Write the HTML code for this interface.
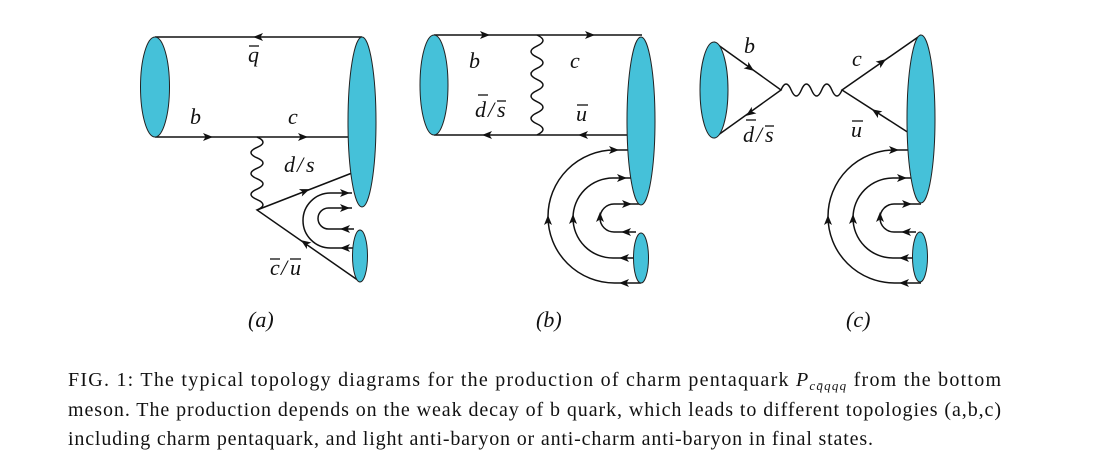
<!DOCTYPE html>
<html><head><meta charset="utf-8"><style>
html,body{margin:0;padding:0;background:#fff;}
svg{display:block;}
.l{fill:none;stroke:#111;stroke-width:1.5;}
.e{fill:#45C1D9;stroke:#222;stroke-width:1;}
.t{font-family:"Liberation Serif",serif;font-style:italic;font-size:22px;fill:#111;}
.p{font-family:"Liberation Serif",serif;font-style:italic;font-size:22px;fill:#111;}
.c{font-family:"Liberation Serif",serif;font-size:20px;fill:#111;}
.bar{stroke:#111;stroke-width:1.3;}
</style></head><body>
<svg width="1094" height="467" viewBox="0 0 1094 467" xmlns="http://www.w3.org/2000/svg">
<defs><path id="ar" d="M5,0 L-5,-4 L-2.5,0 L-5,4 Z" fill="#111"/></defs>

<!-- (a) -->
<path class="l" d="M155,37 H362 M155,137 H350"/>
<path class="l" d="M257,137 q12,5.2 0,10.43 t0,10.43 t0,10.43 t0,10.43 t0,10.43 t0,10.43 t0,10.43"/>
<path class="l" d="M352,173 L257,210 L359,281"/>
<path class="l" d="M352,193 H330.5 A27.5,27.5 0 0 0 330.5,248 H354"/>
<path class="l" d="M352,208 H328.5 A10.5,10.5 0 0 0 328.5,229 H354"/>
<use href="#ar" transform="translate(258,37) rotate(180)"/>
<use href="#ar" transform="translate(208,137)"/>
<use href="#ar" transform="translate(303,137)"/>
<use href="#ar" transform="translate(305,191) rotate(-21.3)"/>
<use href="#ar" transform="translate(305,243) rotate(-145.5)"/>
<use href="#ar" transform="translate(345,193)"/>
<use href="#ar" transform="translate(345,208)"/>
<use href="#ar" transform="translate(345,229) rotate(180)"/>
<use href="#ar" transform="translate(345,248) rotate(180)"/>
<ellipse class="e" cx="155" cy="87" rx="14.5" ry="50"/>
<ellipse class="e" cx="362" cy="122" rx="14" ry="85"/>
<ellipse class="e" cx="360" cy="256" rx="7.5" ry="26"/>
<text class="t" x="248" y="62">q</text><line class="bar" x1="249" y1="46" x2="259" y2="46"/>
<text class="t" x="190" y="124">b</text>
<text class="t" x="288" y="124">c</text>
<text class="t"><tspan x="284" y="172">d</tspan><tspan x="297" y="172">/</tspan><tspan x="306" y="172">s</tspan></text>
<text class="t"><tspan x="270" y="275">c</tspan><tspan x="281" y="275">/</tspan><tspan x="290" y="275">u</tspan></text>
<line class="bar" x1="270" y1="259" x2="280" y2="259"/><line class="bar" x1="290" y1="259" x2="301" y2="259"/>
<text class="p" x="248" y="327">(a)</text>

<!-- (b) -->
<path class="l" d="M434,35 H642 M434,135 H629"/>
<path class="l" d="M537,35 q12,5.55 0,11.11 t0,11.11 t0,11.11 t0,11.11 t0,11.11 t0,11.11 t0,11.11 t0,11.11 t0,11.11"/>
<path class="l" d="M633,150 H614.5 A66.5,66.5 0 0 0 614.5,283 H641"/>
<path class="l" d="M636,178 H613 A40,40 0 0 0 613,258 H636"/>
<path class="l" d="M641,204 H614 A14,14 0 0 0 614,232 H636"/>
<use href="#ar" transform="translate(485,35)"/>
<use href="#ar" transform="translate(590,35)"/>
<use href="#ar" transform="translate(487,135) rotate(180)"/>
<use href="#ar" transform="translate(583,135) rotate(180)"/>
<use href="#ar" transform="translate(614,150)"/>
<use href="#ar" transform="translate(622,178)"/>
<use href="#ar" transform="translate(627,204)"/>
<use href="#ar" transform="translate(626,232) rotate(180)"/>
<use href="#ar" transform="translate(624,258) rotate(180)"/>
<use href="#ar" transform="translate(624,283) rotate(180)"/>
<use href="#ar" transform="translate(548,220) rotate(-90)"/>
<use href="#ar" transform="translate(573,219) rotate(-90)"/>
<use href="#ar" transform="translate(600,217) rotate(-90)"/>
<ellipse class="e" cx="434" cy="85" rx="14" ry="50"/>
<ellipse class="e" cx="641" cy="121" rx="14" ry="84"/>
<ellipse class="e" cx="641" cy="258" rx="7.5" ry="25"/>
<text class="t" x="469" y="68">b</text>
<text class="t" x="570" y="68">c</text>
<text class="t"><tspan x="475" y="117">d</tspan><tspan x="488" y="117">/</tspan><tspan x="497" y="117">s</tspan></text>
<line class="bar" x1="478" y1="95" x2="488" y2="95"/><line class="bar" x1="497" y1="101" x2="506" y2="101"/>
<text class="t" x="576" y="121">u</text><line class="bar" x1="577" y1="105" x2="588" y2="105"/>
<text class="p" x="536" y="327">(b)</text>

<!-- (c) -->
<path class="l" d="M714,42 L781,90 L714,138"/>
<path class="l" d="M781,90 q5.08,-12 10.17,0 t10.17,0 t10.17,0 t10.17,0 t10.17,0 t10.17,0"/>
<path class="l" d="M921,35 L842,90 L909,133"/>
<path class="l" d="M913,150 H894.5 A66.5,66.5 0 0 0 894.5,283 H921"/>
<path class="l" d="M916,178 H893 A40,40 0 0 0 893,258 H916"/>
<path class="l" d="M921,204 H894 A14,14 0 0 0 894,232 H916"/>
<use href="#ar" transform="translate(750,68) rotate(35.6)"/>
<use href="#ar" transform="translate(750,113) rotate(144.4)"/>
<use href="#ar" transform="translate(882,62) rotate(-35.5)"/>
<use href="#ar" transform="translate(876,112) rotate(-146.5)"/>
<use href="#ar" transform="translate(894,150)"/>
<use href="#ar" transform="translate(902,178)"/>
<use href="#ar" transform="translate(907,204)"/>
<use href="#ar" transform="translate(906,232) rotate(180)"/>
<use href="#ar" transform="translate(904,258) rotate(180)"/>
<use href="#ar" transform="translate(904,283) rotate(180)"/>
<use href="#ar" transform="translate(828,220) rotate(-90)"/>
<use href="#ar" transform="translate(853,219) rotate(-90)"/>
<use href="#ar" transform="translate(880,217) rotate(-90)"/>
<ellipse class="e" cx="714" cy="90" rx="14" ry="48"/>
<ellipse class="e" cx="921" cy="119" rx="14" ry="84"/>
<ellipse class="e" cx="920" cy="257" rx="7.5" ry="25"/>
<text class="t" x="744" y="53">b</text>
<text class="t" x="852" y="66">c</text>
<text class="t"><tspan x="743" y="142">d</tspan><tspan x="756" y="142">/</tspan><tspan x="765" y="142">s</tspan></text>
<line class="bar" x1="746" y1="120" x2="756" y2="120"/><line class="bar" x1="765" y1="126" x2="774" y2="126"/>
<text class="t" x="851" y="137">u</text><line class="bar" x1="852" y1="121" x2="863" y2="121"/>
<text class="p" x="846" y="327">(c)</text>

<!-- caption -->
<text class="c" x="68" y="386" textLength="933" lengthAdjust="spacing">FIG. 1: The typical topology diagrams for the production of charm pentaquark <tspan font-style="italic">P</tspan><tspan font-style="italic" font-size="13" dy="4">cq̄qqq</tspan><tspan dy="-4"> from the bottom</tspan></text>
<text class="c" x="68" y="416" textLength="933" lengthAdjust="spacing">meson.  The production depends on the weak decay of b quark, which leads to different topologies (a,b,c)</text>
<text class="c" x="68" y="445" textLength="805" lengthAdjust="spacing">including charm pentaquark, and light anti-baryon or anti-charm anti-baryon in final states.</text>
</svg>
</body></html>
